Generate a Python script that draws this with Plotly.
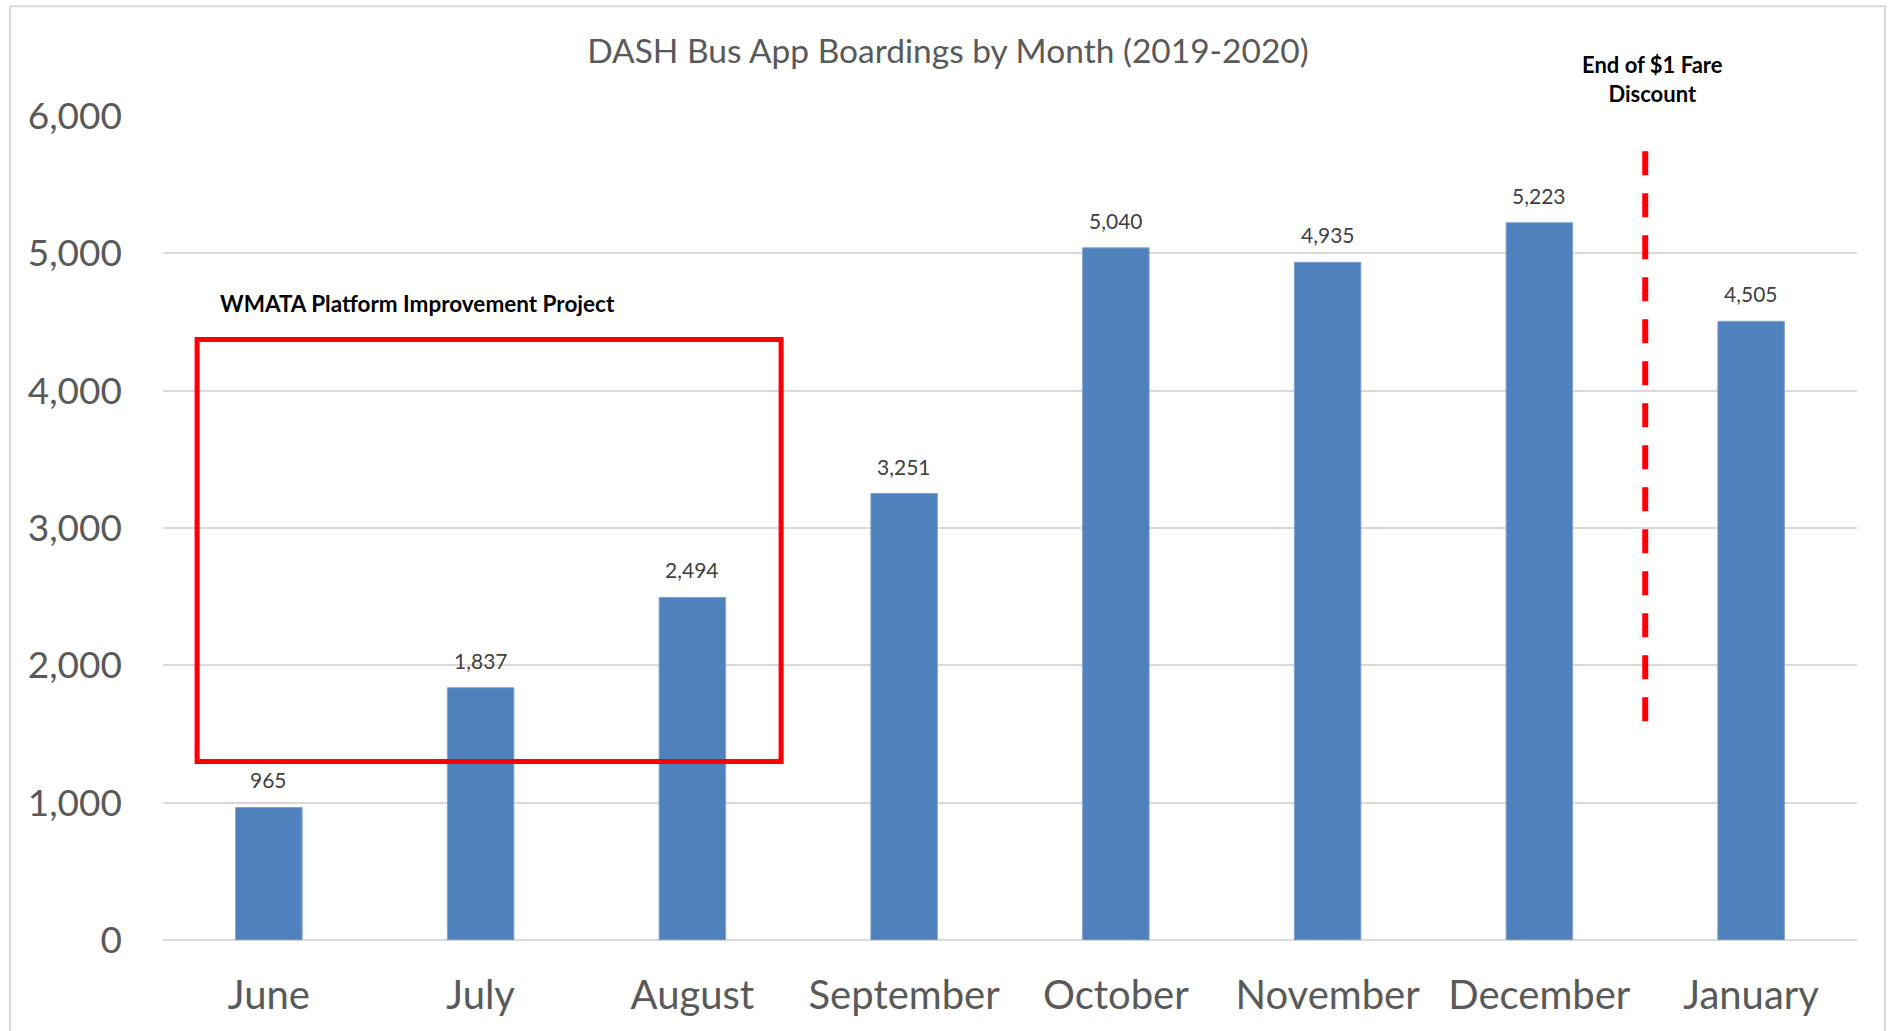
import plotly.graph_objects as go

months = ["June", "July", "August", "September", "October", "November", "December", "January"]
boardings = [965, 1837, 2494, 3251, 5040, 4935, 5223, 4505]
y_ticks = [0, 1000, 2000, 3000, 4000, 5000, 6000]
title_text = "DASH Bus App Boardings by Month (2019-2020)"
wmata_note = "WMATA Platform Improvement Project"
fare_note = "End of $1 Fare<br>Discount"

FONT = "Lato"
fig = go.Figure()
fig.add_trace(go.Bar(
    x=months, y=boardings,
    marker=dict(color="#4F81BD", line=dict(color="#7FA3D0", width=1)),
    width=0.314,
    hoverinfo="x+y",
))

annotations = []
for m, v in zip(months, boardings):
    annotations.append(dict(
        x=m, y=v, xref="x", yref="y", text=f"{v:,}", showarrow=False,
        yanchor="bottom", yshift=13,
        font=dict(family=FONT, size=21, color="#404040"),
    ))
annotations.append(dict(
    x=0.704, y=4636, xref="x", yref="y", text=f"<b>{wmata_note}</b>", showarrow=False,
    xanchor="center", yanchor="middle",
    font=dict(family=FONT, size=22.5, color="#000000"),
))
annotations.append(dict(
    x=6.532, y=1.0452, xref="x", yref="paper", text=f"<b>{fare_note}</b>", showarrow=False,
    xanchor="center", yanchor="middle",
    font=dict(family=FONT, size=22, color="#000000"),
))

shapes = [
    # outer chart border
    dict(type="rect", xref="paper", yref="paper", x0=-0.0903, x1=1.0165, y0=-0.2, y1=1.1333,
         line=dict(color="#D9D9D9", width=2), fillcolor="rgba(0,0,0,0)", layer="below"),
    # WMATA project box
    dict(type="rect", xref="x", yref="y", x0=-0.339, x1=2.419, y0=1300, y1=4373,
         line=dict(color="#FF0000", width=5), fillcolor="rgba(0,0,0,0)", layer="above"),
    # fare discount dashed line (drawn top to bottom so dashes start at the top)
    dict(type="line", xref="x", yref="y", x0=6.5, x1=6.5, y0=5743, y1=1475,
         line=dict(color="#FF0000", width=6, dash="24px,18px"), layer="above"),
]

fig.update_layout(
    width=1891, height=1031,
    margin=dict(l=163, r=34, t=116, b=91),
    paper_bgcolor="white", plot_bgcolor="white",
    title=dict(text=title_text, x=0.5013, xanchor="center", y=1 - 51 / 1031, yref="container",
               yanchor="middle", font=dict(family=FONT, size=33.5, color="#595959")),
    showlegend=False,
    bargap=0.686,
    annotations=annotations,
    shapes=shapes,
    xaxis=dict(
        type="category", categoryorder="array", categoryarray=months,
        showgrid=False, showline=False, ticks="",
        tickfont=dict(family=FONT, size=40, color="#595959"),
        ticklabelstandoff=28,
        range=[-0.5, 7.5],
    ),
    yaxis=dict(
        range=[0, 6000], tickvals=y_ticks, tickformat=",",
        showgrid=True, gridcolor="#D9D9D9", gridwidth=2,
        zeroline=True, zerolinecolor="#D9D9D9", zerolinewidth=2,
        showline=False, ticks="",
        tickfont=dict(family=FONT, size=37, color="#595959"),
        ticklabelstandoff=40,
    ),
)

fig.write_html("out.html", config={"displayModeBar": False},
               post_script="document.body.style.margin='0';document.body.style.overflow='hidden';")
